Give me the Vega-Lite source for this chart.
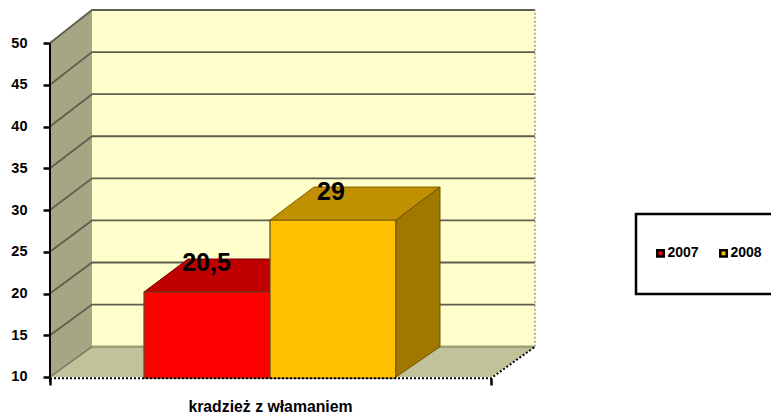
{
"$schema":"https://vega.github.io/schema/vega-lite/v6.json",
"width":771,"height":419,"autosize":{"type":"none"},"padding":0,"background":"white",
"config":{"view":{"stroke":null}},
"datasets":{
"faces":[
{"part":"sidewall","x":50,"v":10,"v2":50},{"part":"sidewall","x":92,"v":13.63,"v2":53.95},
{"part":"backwall","x":92,"v":13.63,"v2":53.95},{"part":"backwall","x":535,"v":13.63,"v2":53.95},
{"part":"floor","x":50,"v":10,"v2":10},{"part":"floor","x":92,"v":10,"v2":13.63},{"part":"floor","x":491,"v":10,"v2":13.63},{"part":"floor","x":535,"v":13.63,"v2":13.63},
{"part":"redtop","x":144,"v":20.18,"v2":20.18},{"part":"redtop","x":188,"v":20.18,"v2":24.13},{"part":"redtop","x":270,"v":20.18,"v2":24.13},{"part":"redtop","x":314,"v":24.13,"v2":24.13},
{"part":"ambertop","x":270,"v":28.8,"v2":28.8},{"part":"ambertop","x":314,"v":28.8,"v2":32.75},{"part":"ambertop","x":396,"v":28.8,"v2":32.75},{"part":"ambertop","x":440,"v":32.75,"v2":32.75},
{"part":"amberside","x":396,"v":10,"v2":28.8},{"part":"amberside","x":440,"v":13.63,"v2":32.75}
],
"lines":[
{"line":"15","x":50,"v":15},{"line":"15","x":92,"v":18.67},{"line":"15","x":535,"v":18.67},
{"line":"20","x":50,"v":20},{"line":"20","x":92,"v":23.71},{"line":"20","x":535,"v":23.71},
{"line":"25","x":50,"v":25},{"line":"25","x":92,"v":28.75},{"line":"25","x":535,"v":28.75},
{"line":"30","x":50,"v":30},{"line":"30","x":92,"v":33.79},{"line":"30","x":535,"v":33.79},
{"line":"35","x":50,"v":35},{"line":"35","x":92,"v":38.83},{"line":"35","x":535,"v":38.83},
{"line":"40","x":50,"v":40},{"line":"40","x":92,"v":43.87},{"line":"40","x":535,"v":43.87},
{"line":"45","x":50,"v":45},{"line":"45","x":92,"v":48.91},{"line":"45","x":535,"v":48.91},
{"line":"50","x":50,"v":50},{"line":"50","x":92,"v":53.95},{"line":"50","x":535,"v":53.95}
],
"base":[{"x":92,"v":13.63},{"x":535,"v":13.63}],
"baseside":[{"x":50,"v":10},{"x":92,"v":13.63}],
"front":[{"x":50,"v":9.85},{"x":491,"v":9.85},{"x":535,"v":13.63}],
"edges":[{"edge":"axis","x":50,"v":9.4,"v2":50},{"edge":"right","x":535,"v":13.63,"v2":53.95}],
"bars":[{"series":"2007","x":144,"x2":270,"v":9.85,"v2":20.18},{"series":"2008","x":270,"x2":396,"v":9.85,"v2":28.8}],
"labels":[{"label":"20,5","x":206.5,"v":23.65},{"label":"29","x":331,"v":32.16}],
"box":[{"x":636,"x2":790,"v":19.94,"v2":29.52}]
},
"encoding":{
"x":{"field":"x","type":"quantitative","scale":{"domain":[0,771],"range":[0,771]},
"axis":{"orient":"bottom","offset":-41,"values":[50,491],"labels":false,"domain":false,"grid":false,"tickSize":7,"tickWidth":2.5,"tickColor":"black","title":"kradzież z włamaniem","titleFont":"Liberation Sans","titleFontSize":15.8,"titleFontWeight":"bold","titleColor":"black","titleX":270,"titleY":21}},
"y":{"field":"v","type":"quantitative","scale":{"domain":[4.97,55.15],"range":[419,0],"nice":false,"zero":false},
"axis":{"orient":"left","offset":-50,"values":[10,15,20,25,30,35,40,45,50],"domain":false,"grid":false,"title":null,"tickSize":7,"tickWidth":2.5,"tickColor":"black","labelFont":"Liberation Sans","labelFontSize":14.5,"labelFontWeight":"bold","labelColor":"black","labelPadding":16}}
},
"layer":[
{"data":{"name":"faces"},"transform":[{"filter":"datum.part==='sidewall'"}],"mark":{"type":"area","fill":"#A6A685"},"encoding":{"y2":{"field":"v2"}}},
{"data":{"name":"faces"},"transform":[{"filter":"datum.part==='backwall'"}],"mark":{"type":"area","fill":"#FFFFCC"},"encoding":{"y2":{"field":"v2"}}},
{"data":{"name":"faces"},"transform":[{"filter":"datum.part==='floor'"}],"mark":{"type":"area","fill":"#C2C29A"},"encoding":{"y2":{"field":"v2"}}},
{"data":{"name":"base"},"mark":{"type":"line","stroke":"#A0A078","strokeWidth":2.5},"encoding":{}},
{"data":{"name":"baseside"},"mark":{"type":"line","stroke":"#77775F","strokeWidth":1.5},"encoding":{}},
{"data":{"name":"lines"},"mark":{"type":"line","stroke":"#5F5F50","strokeWidth":1.8},"encoding":{"detail":{"field":"line"}}},
{"data":{"name":"edges"},"transform":[{"filter":"datum.edge==='right'"}],"mark":{"type":"rule","stroke":"#999999","strokeWidth":1.5,"strokeDash":[2,2]},"encoding":{"y2":{"field":"v2"}}},
{"data":{"name":"faces"},"transform":[{"filter":"datum.part==='redtop'"}],"mark":{"type":"area","fill":"#C00000","stroke":"#7A0000","strokeWidth":1},"encoding":{"y2":{"field":"v2"}}},
{"data":{"name":"bars"},"mark":{"type":"rect","stroke":"#5A4A20","strokeWidth":1.2},"encoding":{"x2":{"field":"x2"},"y2":{"field":"v2"},"color":{"field":"series","type":"nominal","scale":{"domain":["2007","2008"],"range":["#FF0000","#FFC000"]},
"legend":{"orient":"none","legendX":653.5,"legendY":246,"direction":"horizontal","title":null,"symbolType":"square","symbolSize":42,"symbolStrokeColor":"black","symbolStrokeWidth":2.5,"labelFont":"Liberation Sans","labelFontSize":14,"labelFontWeight":"bold","labelColor":"black","labelOffset":0,"columnPadding":15,"padding":0}}}},
{"data":{"name":"faces"},"transform":[{"filter":"datum.part==='ambertop'"}],"mark":{"type":"area","fill":"#C09000","stroke":"#806000","strokeWidth":1},"encoding":{"y2":{"field":"v2"}}},
{"data":{"name":"faces"},"transform":[{"filter":"datum.part==='amberside'"}],"mark":{"type":"area","fill":"#A07800","stroke":"#705500","strokeWidth":1},"encoding":{"y2":{"field":"v2"}}},
{"data":{"name":"front"},"mark":{"type":"line","stroke":"black","strokeWidth":2,"strokeDash":[2,2]},"encoding":{}},
{"data":{"name":"edges"},"transform":[{"filter":"datum.edge==='axis'"}],"mark":{"type":"rule","stroke":"black","strokeWidth":2},"encoding":{"y2":{"field":"v2"}}},
{"data":{"name":"box"},"mark":{"type":"rect","fill":"white","stroke":"black","strokeWidth":2.5,"clip":false},"encoding":{"x2":{"field":"x2"},"y2":{"field":"v2"}}},
{"data":{"name":"labels"},"mark":{"type":"text","font":"Liberation Sans","fontWeight":"bold","fontSize":25,"color":"black","align":"center","baseline":"middle"},"encoding":{"text":{"field":"label"}}}
]
}
